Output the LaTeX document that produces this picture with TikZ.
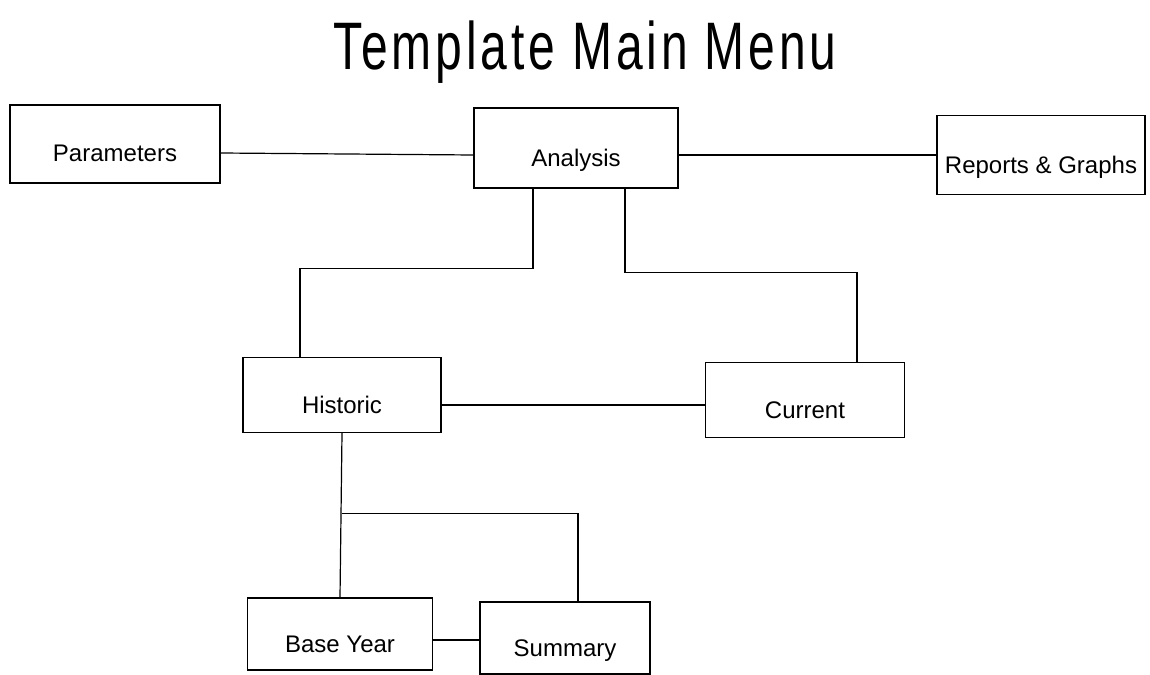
\documentclass[tikz,border=0pt]{standalone}
\usepackage{fontspec}
\usepackage{graphicx}
\setmainfont{Liberation Sans}
\begin{document}
\begin{tikzpicture}[x=0.5pt,y=-0.5pt,line width=0.6pt,
  menubox/.style={draw,inner sep=2pt,text height=18pt,text depth=0pt,
    font=\fontsize{12}{14}\selectfont}]
\useasboundingbox (0,0) rectangle (1150,674);

\node (title) at (585,52) {\scalebox{1}[1.4]{\fontsize{24}{28}\selectfont\addfontfeatures{LetterSpace=8}Template Main Menu}};

\node[menubox,minimum width=105pt,minimum height=39pt] (params) at (115,144) {Parameters};
\node[menubox,minimum width=102pt,minimum height=40pt] (analysis) at (576,148) {Analysis};
\node[menubox,minimum width=104pt,minimum height=39.5pt] (reports) at (1041,155) {Reports \& Graphs};

\node[menubox,minimum width=99pt,minimum height=37.5pt] (historic) at (342,395) {Historic};
\node[menubox,minimum width=99.5pt,minimum height=37.5pt] (current) at (805,400) {Current};

\node[menubox,minimum width=92.5pt,minimum height=36pt] (baseyear) at (340,634) {Base Year};
\node[menubox,minimum width=85pt,minimum height=36pt] (summary) at (565,638) {Summary};

\draw ([yshift=-4.5pt]params.east) -- ([yshift=-3.5pt]analysis.west);
\draw ([yshift=-3.5pt]analysis.east) -- (reports.west);

\draw ([xshift=-21.5pt]analysis.south) -- ++(0,80) -| ([xshift=-21pt]historic.north);
\draw ([xshift=24.5pt]analysis.south) -- ++(0,84) -| ([xshift=26pt]current.north);

\draw ([yshift=-5pt]historic.east) -- ([yshift=-2.5pt]current.west);

\draw (historic.south) -- (baseyear.north);
\coordinate (hjunc) at ([yshift=-40pt]historic.south);
\draw (hjunc) -| ([xshift=6.5pt]summary.north);
\draw ([yshift=-3pt]baseyear.east) -- ([yshift=-1pt]summary.west);
\end{tikzpicture}
\end{document}
